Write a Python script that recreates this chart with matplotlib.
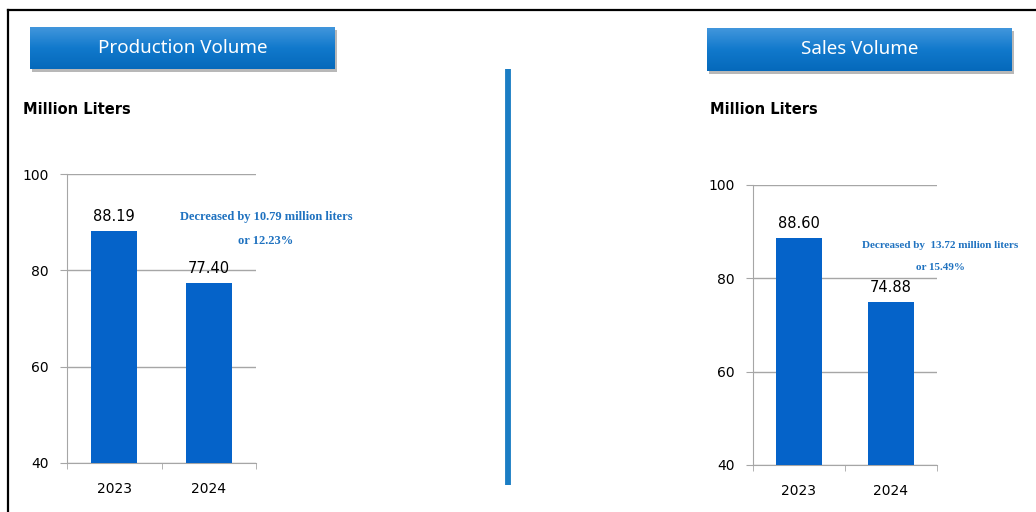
import numpy as np
import matplotlib
matplotlib.use("Agg")
import matplotlib.pyplot as plt
from matplotlib.patches import Rectangle
from matplotlib.lines import Line2D

W, H = 1036, 512

years = ["2023", "2024"]
production = [88.19, 77.40]
sales = [88.60, 74.88]
titles = ["Production Volume", "Sales Volume"]
unit_label = "Million Liters"
notes = [("Decreased by 10.79 million liters", "or 12.23%"),
         ("Decreased by  13.72 million liters", "or 15.49%")]
yticks = [40, 60, 80, 100]

bar_color = "#0563c9"
note_color = "#1f72c0"
grid_color = "#a6a6a6"

fig = plt.figure(figsize=(W / 100, H / 100), dpi=100)
fig.patch.set_facecolor("white")


def fx(px):
    return px / W


def fy(py):
    return 1 - py / H


# outer frame (top and left edges visible)
fig.add_artist(Line2D([fx(8), 1], [fy(10), fy(10)], color="black", lw=1.6))
fig.add_artist(Line2D([fx(8), fx(8)], [fy(10), 0], color="black", lw=1.6))

# divider line
fig.add_artist(Line2D([fx(508), fx(508)], [fy(69), fy(485)], color="#1a7dc4", lw=4.2,
                      solid_capstyle="butt"))


def header(x0, y0, x1, y1, text):
    # shadow
    fig.add_artist(Rectangle((fx(x0 + 2), fy(y1 + 3)), fx(x1 - x0), (y1 - y0) / H,
                             transform=fig.transFigure, color="#b8b8b8", lw=0, zorder=-5))
    hax = fig.add_axes([fx(x0), fy(y1), fx(x1 - x0), (y1 - y0) / H])
    hax.set_zorder(2)
    grad = np.linspace(0, 1, 50).reshape(-1, 1)
    cmap = matplotlib.colors.LinearSegmentedColormap.from_list(
        "hb", ["#4196dc", "#1179cc", "#0569bb"])
    hax.imshow(grad, aspect="auto", cmap=cmap, extent=[0, 1, 0, 1], origin="upper")
    hax.set_axis_off()
    hax.text(0.5, 0.5, text, color="white", fontsize=13.5, family="Noto Sans",
             ha="center", va="center", transform=hax.transAxes)


header(30, 27, 335, 69, titles[0])
header(707, 28, 1012, 71, titles[1])

fig.text(fx(23), fy(109), unit_label, fontsize=10.5, fontweight="bold", va="center", ha="left")
fig.text(fx(710), fy(109), unit_label, fontsize=10.5, fontweight="bold", va="center", ha="left")


def bar_panel(rect, values, note, note_pos, note_size):
    ax = fig.add_axes(rect)
    x = np.arange(len(years))
    ax.bar(x, values, width=0.49, color=bar_color, zorder=3)
    ax.set_xlim(-0.5, 1.5)
    ax.set_ylim(40, 100)
    ax.set_yticks(yticks)
    ax.yaxis.grid(True, color=grid_color, lw=1)
    ax.set_axisbelow(True)
    for s in ["top", "right"]:
        ax.spines[s].set_visible(False)
    ax.spines["left"].set_color(grid_color)
    ax.spines["bottom"].set_color(grid_color)
    ax.set_xticks(x)
    ax.set_xticklabels(years)
    ax.set_xticks([-0.5, 0.5, 1.5], minor=True)
    ax.tick_params(axis="x", which="major", length=0, pad=14, labelsize=10)
    ax.tick_params(axis="x", which="minor", length=4, color=grid_color)
    ax.tick_params(axis="y", length=5, color=grid_color, labelsize=10, pad=8)
    for xi, v in zip(x, values):
        ax.annotate(f"{v:.2f}", (xi, v), xytext=(0, 5), textcoords="offset points",
                    ha="center", va="bottom", fontsize=10.5)
    (nx1, ny1), (nx2, ny2) = note_pos
    fig.text(fx(nx1), fy(ny1), note[0], color=note_color, fontsize=note_size, fontweight="bold",
             family="Liberation Serif", ha="center", va="center")
    fig.text(fx(nx2), fy(ny2), note[1], color=note_color, fontsize=note_size, fontweight="bold",
             family="Liberation Serif", ha="center", va="center")
    return ax


bar_panel([fx(67), fy(463), fx(256 - 67), (463 - 174) / H], production, notes[0],
          ((266, 217), (266, 241)), 9)
bar_panel([fx(753), fy(465), fx(937 - 753), (465 - 185) / H], sales, notes[1],
          ((940, 246), (940, 267)), 8)

fig.savefig("out.png", dpi=100, facecolor="white")
